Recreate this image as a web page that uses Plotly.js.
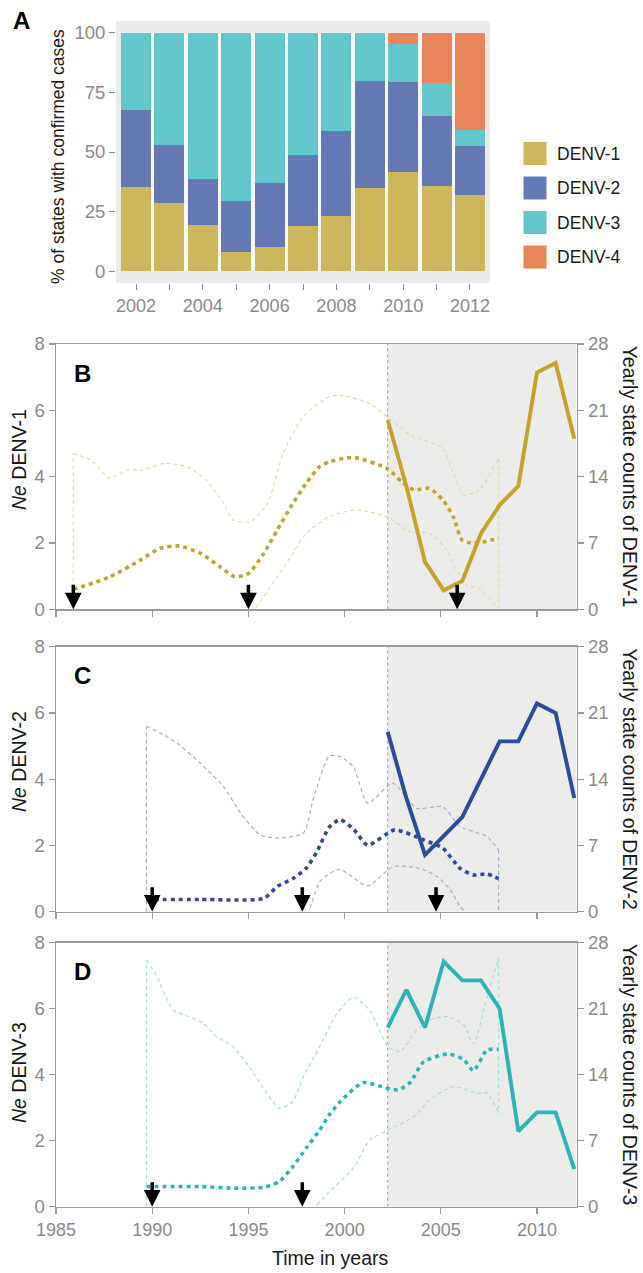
<!DOCTYPE html>
<html>
<head>
<meta charset="utf-8">
<script src="https://cdn.plot.ly/plotly-3.0.1.min.js"></script>
<style>html,body{margin:0;padding:0;background:#fff;}#chart{width:643px;height:1273px;}</style>
</head>
<body>
<div id="chart"></div>
<script>
// ---------- Panel A data ----------
const years = [2002, 2003, 2004, 2005, 2006, 2007, 2008, 2009, 2010, 2011, 2012];
const serotypes = ['DENV-1', 'DENV-2', 'DENV-3', 'DENV-4'];
const pctD1 = [35.5, 28.6, 19.2, 7.9, 10.3, 19.0, 23.3, 34.9, 41.8, 35.8, 32.1];
const pctD2 = [32.3, 24.3, 19.4, 21.7, 26.5, 29.9, 35.5, 45.1, 37.4, 29.5, 20.3];
const pctD3 = [32.2, 47.1, 61.4, 70.4, 63.2, 51.1, 41.2, 20.0, 16.1, 13.6, 6.9];
const pctD4 = [0, 0, 0, 0, 0, 0, 0, 0, 4.7, 21.1, 40.7];
const barColors = ['#cdb65c', '#6479b4', '#62c6cb', '#e8865b'];

// ---------- Yearly state counts ----------
const countsD1 = [20, 13, 5, 2, 3, 8, 11, 13, 25, 26, 18];
const countsD2 = [19, 12, 6, 8, 10, 14, 18, 18, 22, 21, 12];
const countsD3 = [19, 23, 19, 26, 24, 24, 21, 8, 10, 10, 4];

// ---------- Ne DENV-1 ----------
const neB_t   = [1985.9, 1987.8, 1989.4, 1990.4, 1991.4, 1992.5, 1993.5, 1994.3, 1995.0, 1995.8, 1996.5, 1997.2, 1998.0, 1998.7, 1999.2, 2000.45, 2002.2, 2003.05, 2003.6, 2004.4, 2005.1, 2005.65, 2006.1, 2006.7, 2008.0];
const neB_med = [0.6, 0.98, 1.49, 1.84, 1.91, 1.69, 1.29, 0.98, 1.08, 1.69, 2.39, 3.09, 3.8, 4.3, 4.45, 4.58, 4.25, 3.8, 3.6, 3.65, 3.3, 2.79, 2.09, 1.99, 2.14];
const neB_upT = [1985.9, 1985.9, 1986.8, 1987.8, 1988.7, 1989.5, 1990.6, 1991.8, 1992.8, 1993.7, 1994.2, 1995.1, 1996.0, 1996.8, 1997.85, 1999.2, 1999.76, 2001.3, 2002.2, 2003.4, 2005.1, 2005.65, 2006.2, 2007.0, 2008.0, 2008.0];
const neB_up  = [0, 4.7, 4.5, 3.95, 4.2, 4.2, 4.4, 4.3, 3.9, 3.2, 2.69, 2.64, 3.2, 4.7, 5.81, 6.41, 6.46, 6.21, 5.81, 5.26, 4.86, 4.1, 3.45, 3.6, 4.55, 0.03];
const neB_loT = [1995.4, 1996.5, 1997.2, 1998.0, 1999.2, 2000.6, 2002.2, 2003.4, 2004.4, 2005.3, 2005.8, 2006.35, 2007.0, 2008.0];
const neB_lo  = [0.05, 0.98, 1.59, 2.29, 2.79, 3.0, 2.79, 2.34, 2.29, 1.79, 1.19, 0.73, 0.63, 0.03];

// ---------- Ne DENV-2 ----------
const neC_t   = [1989.7, 1992.5, 1995.8, 1996.5, 1997.3, 1998.0, 1998.55, 1999.2, 1999.76, 2000.45, 2001.2, 2002.6, 2004.1, 2005.1, 2006.0, 2006.7, 2007.4, 2008.0];
const neC_med = [0.37, 0.37, 0.4, 0.76, 1.0, 1.31, 1.8, 2.55, 2.78, 2.5, 2.01, 2.47, 2.17, 1.92, 1.31, 1.11, 1.14, 1.0];
const neC_upT = [1989.7, 1989.7, 1990.6, 1991.4, 1992.5, 1993.7, 1994.6, 1995.6, 1996.5, 1997.85, 1998.4, 1999.2, 1999.76, 2000.45, 2001.2, 2002.5, 2003.75, 2005.1, 2006.0, 2007.4, 2008.0, 2008.0];
const neC_up  = [0, 5.6, 5.34, 5.04, 4.48, 3.78, 2.97, 2.32, 2.22, 2.37, 3.47, 4.7, 4.68, 4.38, 3.27, 3.88, 3.12, 3.17, 2.57, 2.27, 1.86, 0];
const neC_loT = [1998.2, 1998.7, 1999.2, 1999.76, 2001.2, 2002.5, 2003.9, 2004.8, 2005.5, 2006.0, 2006.3];
const neC_lo  = [0.1, 0.9, 1.15, 1.28, 0.78, 1.36, 1.31, 1.06, 0.66, 0.15, 0];

// ---------- Ne DENV-3 ----------
const neD_t   = [1989.7, 1992.5, 1994.2, 1995.8, 1996.6, 1997.3, 1998.0, 1998.7, 1999.2, 1999.76, 2000.97, 2002.2, 2002.8, 2003.4, 2004.1, 2005.4, 2006.2, 2006.7, 2007.4, 2008.0];
const neD_med = [0.61, 0.61, 0.56, 0.59, 0.76, 1.21, 1.77, 2.32, 2.78, 3.18, 3.76, 3.59, 3.54, 3.76, 4.39, 4.63, 4.45, 4.12, 4.75, 4.77];
const neD_upT = [1989.7, 1989.7, 1990.2, 1991.1, 1991.8, 1992.65, 1993.35, 1994.2, 1995.1, 1995.95, 1996.6, 1997.3, 1997.85, 1998.7, 1999.6, 2000.45, 2001.3, 2002.25, 2002.9, 2003.75, 2004.4, 2005.4, 2006.2, 2006.7, 2007.4, 2008.0, 2008.0];
const neD_up  = [0, 7.47, 7.02, 5.96, 5.78, 5.56, 5.15, 4.85, 4.19, 3.44, 2.98, 3.18, 3.94, 4.85, 5.86, 6.34, 5.96, 4.85, 4.7, 5.35, 5.66, 5.76, 5.5, 4.93, 6.36, 7.53, 2.83];
const neD_loT = [1998.55, 1999.2, 2000.45, 2001.3, 2002.25, 2003.6, 2004.4, 2005.65, 2006.9, 2007.4, 2008.0];
const neD_lo  = [0.05, 0.45, 1.16, 2.02, 2.32, 2.73, 3.23, 3.64, 3.44, 3.45, 2.83];

// ---------- arrows (introduction times) ----------
const arrowsB = [1985.9, 1995.0, 2005.85];
const arrowsC = [1990.0, 1997.8, 2004.75];
const arrowsD = [1990.0, 1997.8];

const neTicks = [0, 2, 4, 6, 8];
const countTicks = [0, 7, 14, 21, 28];
const timeTicks = [1985, 1990, 1995, 2000, 2005, 2010];
const pctTicks = [0, 25, 50, 75, 100];

// ---------- layout helpers ----------
const W = 643, H = 1273;
const px = v => v / W;
const py = v => 1 - v / H;
const FONT = 'Liberation Sans, Arial, Helvetica, sans-serif';
const TICKCOL = '#8a8a8a';
const AXCOL = '#9a9a9a';
const NE_RANGE = [1985, 2012.06];
const CNT_RANGE = [1984.224, 2012.129];

const panels = [
  {key: 'B', x: 'x2', y: 'y2', cx: 'x5', cy: 'y5', top: 344, bot: 609.3, titleY: 460,
   name: 'DENV-1', line: '#c5a22a', light: '#e7d9a6', counts: countsD1,
   t: neB_t, med: neB_med, upT: neB_upT, up: neB_up, loT: neB_loT, lo: neB_lo, arrows: arrowsB},
  {key: 'C', x: 'x3', y: 'y3', cx: 'x6', cy: 'y6', top: 646.7, bot: 911.7, titleY: 762,
   name: 'DENV-2', line: '#2b4b9e', light: '#a9aed7', counts: countsD2,
   t: neC_t, med: neC_med, upT: neC_upT, up: neC_up, loT: neC_loT, lo: neC_lo, arrows: arrowsC},
  {key: 'D', x: 'x4', y: 'y4', cx: 'x7', cy: 'y7', top: 942.7, bot: 1206.7, titleY: 1073,
   name: 'DENV-3', line: '#2cb4b8', light: '#a2dfe0', counts: countsD3,
   t: neD_t, med: neD_med, upT: neD_upT, up: neD_up, loT: neD_loT, lo: neD_lo, arrows: arrowsD}
];

const traces = [];
const pcts = [pctD1, pctD2, pctD3, pctD4];
pcts.forEach((vals, i) => {
  traces.push({type: 'bar', x: years, y: vals, name: serotypes[i], width: 0.9,
    marker: {color: barColors[i], line: {width: 0}}, xaxis: 'x', yaxis: 'y', hoverinfo: 'skip'});
});

panels.forEach(p => {
  const hpd = {color: p.light, width: 1.2, dash: '4px,3px'};
  const nU = p.upT.length;
  // vertical edges of the upper HPD bound (start and end)
  traces.push({type: 'scatter', mode: 'lines', x: p.upT.slice(0, 2), y: p.up.slice(0, 2), xaxis: p.x, yaxis: p.y,
    line: hpd, hoverinfo: 'skip'});
  traces.push({type: 'scatter', mode: 'lines', x: p.upT.slice(nU - 2), y: p.up.slice(nU - 2), xaxis: p.x, yaxis: p.y,
    line: hpd, hoverinfo: 'skip'});
  // smooth part of the upper bound
  traces.push({type: 'scatter', mode: 'lines', x: p.upT.slice(1, nU - 1), y: p.up.slice(1, nU - 1), xaxis: p.x, yaxis: p.y,
    line: Object.assign({shape: 'spline', smoothing: 0.6}, hpd), hoverinfo: 'skip'});
  traces.push({type: 'scatter', mode: 'lines', x: p.loT, y: p.lo, xaxis: p.x, yaxis: p.y,
    line: Object.assign({shape: 'spline', smoothing: 0.6}, hpd), hoverinfo: 'skip'});
  traces.push({type: 'scatter', mode: 'lines', x: p.t, y: p.med, xaxis: p.x, yaxis: p.y,
    line: {color: p.line, width: 3.6, dash: '4px,4px', shape: 'spline', smoothing: 0.6}, hoverinfo: 'skip'});
  traces.push({type: 'scatter', mode: 'lines', x: years, y: p.counts, xaxis: p.cx, yaxis: p.cy,
    line: {color: p.line, width: 3.9}, hoverinfo: 'skip'});
});

const layout = {
  width: W, height: H, margin: {l: 0, r: 0, t: 0, b: 0},
  paper_bgcolor: '#ffffff', plot_bgcolor: 'rgba(0,0,0,0)',
  showlegend: false, barmode: 'stack',
  font: {family: FONT, size: 17, color: '#1a1a1a'},
  xaxis: {domain: [px(116), px(490)], range: [2001.4, 2012.6], anchor: 'y',
    tickvals: years, ticktext: years.map(y => (y % 2 === 0 ? String(y) : '')),
    ticks: 'outside', ticklen: 6, tickwidth: 1, tickcolor: TICKCOL,
    tickfont: {size: 18, color: TICKCOL, family: FONT},
    showline: false, showgrid: false, zeroline: false, fixedrange: true},
  yaxis: {domain: [py(283), py(21)], range: [-5, 105], anchor: 'x',
    tickvals: pctTicks, ticks: 'outside', ticklen: 6, tickwidth: 1, tickcolor: TICKCOL,
    tickfont: {size: 18.5, color: TICKCOL, family: FONT},
    showline: false, showgrid: false, zeroline: false, fixedrange: true},
  shapes: [], annotations: []
};

// panel A backgrounds
layout.shapes.push({type: 'rect', xref: 'x domain', yref: 'y domain', x0: 0, x1: 1, y0: 0, y1: 1,
  fillcolor: '#ebebeb', line: {width: 0}, layer: 'below'});
layout.shapes.push({type: 'rect', xref: 'x', yref: 'y', x0: years[0] - 0.45, x1: years[years.length - 1] + 0.45,
  y0: 0, y1: 100, fillcolor: '#f7f7f7', line: {width: 0}, layer: 'below'});

// legend for panel A
const legY = [153.5, 188, 222.5, 257];
serotypes.forEach((s, i) => {
  layout.shapes.push({type: 'rect', xref: 'paper', yref: 'paper',
    x0: px(523.5), x1: px(546.5), y0: py(legY[i] + 11.5), y1: py(legY[i] - 11.5),
    fillcolor: barColors[i], line: {width: 0}});
  layout.annotations.push({text: s, xref: 'paper', yref: 'paper', x: px(555), y: py(legY[i]),
    xanchor: 'left', yanchor: 'middle', showarrow: false, font: {size: 17.5, color: '#1a1a1a', family: FONT}});
});

layout.annotations.push({text: '% of states with confirmed cases', xref: 'paper', yref: 'paper',
  x: px(58), y: py(157), textangle: -90, showarrow: false, xanchor: 'center', yanchor: 'middle',
  font: {size: 17.5, color: '#1a1a1a', family: FONT}});
layout.annotations.push({text: '<b>A</b>', xref: 'paper', yref: 'paper', x: px(21), y: py(21),
  showarrow: false, xanchor: 'center', yanchor: 'middle', font: {size: 24, color: '#000', family: FONT}});

panels.forEach((p, idx) => {
  const n = p.x.slice(1), cn = p.cx.slice(1), cyn = p.cy.slice(1);
  const isLast = idx === panels.length - 1;
  const dom = [py(p.bot), py(p.top)];
  layout['xaxis' + n] = {domain: [px(56), px(576.7)], range: NE_RANGE, anchor: p.y,
    tickvals: timeTicks, showticklabels: isLast, ticks: 'outside', ticklen: 6, tickwidth: 1.2, tickcolor: AXCOL,
    tickfont: {size: 18, color: TICKCOL, family: FONT},
    showline: true, mirror: true, linecolor: AXCOL, linewidth: 1.5,
    showgrid: false, zeroline: false, fixedrange: true};
  layout['yaxis' + n] = {domain: dom, range: [0, 8], anchor: p.x, tickvals: neTicks,
    ticks: 'outside', ticklen: 6, tickwidth: 1.2, tickcolor: AXCOL,
    tickfont: {size: 18.5, color: TICKCOL, family: FONT},
    showline: true, linecolor: AXCOL, linewidth: 1.5, showgrid: false, zeroline: false, fixedrange: true};
  layout['xaxis' + cn] = {overlaying: p.x, range: CNT_RANGE, anchor: p.y, visible: false, fixedrange: true};
  layout['yaxis' + cyn] = {overlaying: p.y, side: 'right', anchor: p.x, range: [0, 28], tickvals: countTicks,
    ticks: 'outside', ticklen: 6, tickwidth: 1.2, tickcolor: AXCOL,
    tickfont: {size: 18.5, color: TICKCOL, family: FONT},
    showline: true, linecolor: AXCOL, linewidth: 1.5, showgrid: false, zeroline: false, fixedrange: true};

  // shaded surveillance period
  layout.shapes.push({type: 'rect', xref: p.cx, yref: p.cy, x0: years[0], x1: CNT_RANGE[1], y0: 0, y1: 28,
    fillcolor: '#ececea', line: {width: 0}, layer: 'below'});
  layout.shapes.push({type: 'line', xref: p.cx, yref: p.cy, x0: years[0], x1: years[0], y0: 0, y1: 28,
    line: {color: '#a0a0a0', width: 1, dash: 'dot'}, layer: 'below'});

  // arrows
  p.arrows.forEach(a => {
    layout.annotations.push({x: a, y: 0, xref: p.x, yref: p.y, text: '', showarrow: true,
      ax: 0, ay: -26, arrowhead: 2, arrowsize: 0.95, arrowwidth: 3.5, arrowcolor: '#000',
      standoff: 0, startstandoff: 0});
  });

  // titles
  layout.annotations.push({text: '<i>Ne</i> ' + p.name, xref: 'paper', yref: 'paper', x: px(19), y: py(p.titleY),
    textangle: -90, showarrow: false, xanchor: 'center', yanchor: 'middle',
    font: {size: 19.5, color: '#1a1a1a', family: FONT}});
  layout.annotations.push({text: 'Yearly state counts of ' + p.name, xref: 'paper', yref: 'paper',
    x: px(630), y: py((p.top + p.bot) / 2), textangle: 90, showarrow: false, xanchor: 'center', yanchor: 'middle',
    font: {size: 19.5, color: '#1a1a1a', family: FONT}});
  layout.annotations.push({text: '<b>' + p.key + '</b>', xref: 'paper', yref: 'paper', x: px(82), y: py(p.top + 29),
    showarrow: false, xanchor: 'center', yanchor: 'middle', font: {size: 24, color: '#000', family: FONT}});
});

layout.annotations.push({text: 'Time in years', xref: 'paper', yref: 'paper', x: px(330), y: py(1258),
  showarrow: false, xanchor: 'center', yanchor: 'middle', font: {size: 19.5, color: '#1a1a1a', family: FONT}});

Plotly.newPlot('chart', traces, layout, {displayModeBar: false, staticPlot: true});
</script>
</body>
</html>
